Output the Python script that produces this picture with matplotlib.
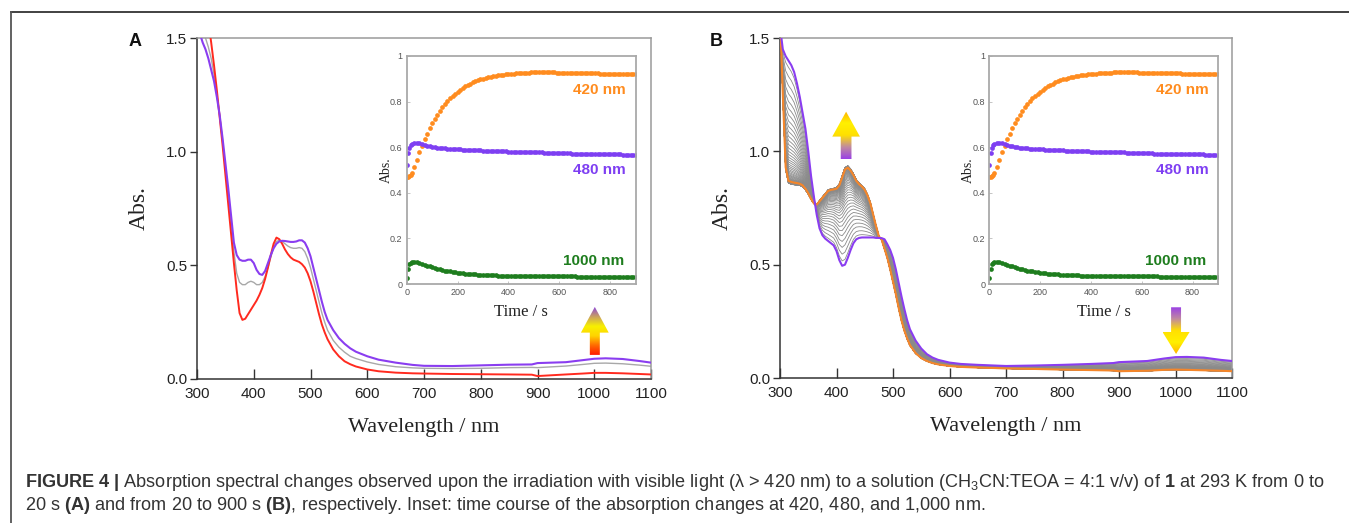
import numpy as np
import matplotlib
matplotlib.use("Agg")
import matplotlib.pyplot as plt
from matplotlib.lines import Line2D
from matplotlib.patches import Polygon
from matplotlib.colors import LinearSegmentedColormap
from matplotlib.ticker import FuncFormatter

plt.rcParams['font.family'] = ['Liberation Sans', 'DejaVu Sans']
plt.rcParams['mathtext.fontset'] = 'custom'
plt.rcParams['mathtext.rm'] = 'Liberation Sans'
plt.rcParams['mathtext.bf'] = 'Liberation Sans:bold'
plt.rcParams['mathtext.it'] = 'Liberation Sans:italic'

# ---------------- data ----------------
wavelength = [300, 305, 310, 315, 320, 325, 330, 335, 340, 345,
              350, 355, 360, 365, 370, 375, 380, 385, 390, 395,
              400, 405, 410, 415, 420, 425, 430, 435, 440, 445,
              450, 455, 460, 465, 470, 475, 480, 485, 490, 495,
              500, 505, 510, 515, 520, 525, 530, 540, 550, 560,
              570, 580, 600, 620, 650, 680, 700, 750, 800, 850,
              890, 900, 950, 980, 1000, 1020, 1050, 1080, 1100]

# Panel A: 0 s (red), intermediate (gray), 20 s (purple)
a_spec_0s = [1.95, 1.85, 1.75, 1.66, 1.57, 1.48, 1.38, 1.27, 1.15, 1.03,
             0.90, 0.77, 0.64, 0.51, 0.39, 0.29, 0.26, 0.265, 0.285, 0.305,
             0.325, 0.345, 0.37, 0.40, 0.44, 0.49, 0.545, 0.595, 0.622, 0.615,
             0.595, 0.57, 0.55, 0.535, 0.525, 0.52, 0.515, 0.505, 0.49, 0.465,
             0.43, 0.385, 0.335, 0.285, 0.24, 0.205, 0.175, 0.13, 0.10, 0.078,
             0.065, 0.055, 0.042, 0.034, 0.028, 0.025, 0.024, 0.022, 0.021, 0.02,
             0.019, 0.013, 0.02, 0.024, 0.027, 0.027, 0.025, 0.022, 0.02]
a_spec_mid = [1.66, 1.60, 1.55, 1.50, 1.46, 1.41, 1.34, 1.25, 1.16, 1.05,
              0.93, 0.81, 0.68, 0.56, 0.465, 0.425, 0.415, 0.415, 0.425, 0.43,
              0.425, 0.415, 0.415, 0.425, 0.45, 0.49, 0.535, 0.58, 0.605, 0.61,
              0.605, 0.595, 0.585, 0.578, 0.575, 0.575, 0.578, 0.575, 0.56, 0.53,
              0.49, 0.44, 0.39, 0.34, 0.29, 0.25, 0.215, 0.17, 0.14, 0.118,
              0.10, 0.09, 0.075, 0.064, 0.054, 0.049, 0.047, 0.046, 0.047, 0.05,
              0.051, 0.05, 0.057, 0.064, 0.069, 0.07, 0.067, 0.061, 0.056]
a_spec_20s = [1.56, 1.52, 1.48, 1.45, 1.41, 1.36, 1.31, 1.24, 1.16, 1.06,
              0.95, 0.84, 0.72, 0.60, 0.545, 0.525, 0.52, 0.52, 0.525, 0.525,
              0.51, 0.48, 0.462, 0.458, 0.475, 0.51, 0.545, 0.575, 0.595, 0.605,
              0.608, 0.607, 0.605, 0.603, 0.603, 0.605, 0.61, 0.61, 0.60, 0.575,
              0.54, 0.49, 0.44, 0.39, 0.34, 0.295, 0.26, 0.215, 0.18, 0.155,
              0.135, 0.12, 0.10, 0.085, 0.072, 0.062, 0.058, 0.057, 0.06, 0.063,
              0.064, 0.07, 0.074, 0.083, 0.089, 0.091, 0.088, 0.079, 0.072]

# Panel B: 20 s (purple) and 900 s (orange)
b_spec_20s = [1.55, 1.45, 1.42, 1.40, 1.38, 1.35, 1.30, 1.24, 1.17, 1.10,
              1.00, 0.89, 0.80, 0.72, 0.66, 0.63, 0.615, 0.605, 0.595, 0.585,
              0.56, 0.52, 0.495, 0.50, 0.53, 0.565, 0.595, 0.612, 0.618, 0.62,
              0.62, 0.62, 0.62, 0.62, 0.618, 0.618, 0.617, 0.612, 0.59, 0.565,
              0.53, 0.48, 0.42, 0.36, 0.305, 0.255, 0.215, 0.165, 0.13, 0.105,
              0.09, 0.08, 0.068, 0.062, 0.058, 0.055, 0.053, 0.055, 0.058, 0.062,
              0.066, 0.07, 0.075, 0.086, 0.092, 0.093, 0.09, 0.08, 0.075]
b_spec_900s = [1.60, 1.25, 0.93, 0.87, 0.865, 0.862, 0.86, 0.857, 0.85, 0.835,
               0.815, 0.79, 0.77, 0.765, 0.78, 0.795, 0.81, 0.825, 0.83, 0.832,
               0.835, 0.85, 0.885, 0.92, 0.928, 0.915, 0.895, 0.87, 0.855, 0.845,
               0.83, 0.805, 0.77, 0.72, 0.67, 0.625, 0.61, 0.57, 0.53, 0.48,
               0.425, 0.37, 0.31, 0.255, 0.21, 0.175, 0.145, 0.11, 0.088, 0.075,
               0.066, 0.06, 0.053, 0.049, 0.046, 0.044, 0.042, 0.04, 0.037, 0.035,
               0.033, 0.03, 0.032, 0.036, 0.037, 0.036, 0.034, 0.032, 0.03]

# Inset: time course (s)
time_s = [0, 5, 10, 15, 20,
          30, 40, 50, 60, 70, 80, 90, 100,
          110, 120, 130, 140, 150, 160, 170, 180, 190, 200,
          210, 220, 230, 240, 250, 260, 270, 280, 290, 300,
          310, 320, 330, 340, 350, 360, 370, 380, 390, 400,
          410, 420, 430, 440, 450, 460, 470, 480, 490, 500,
          510, 520, 530, 540, 550, 560, 570, 580, 590, 600,
          610, 620, 630, 640, 650, 660, 670, 680, 690, 700,
          710, 720, 730, 740, 750, 760, 770, 780, 790, 800,
          810, 820, 830, 840, 850, 860, 870, 880, 890, 900]
abs_420 = [0.468, 0.470, 0.474, 0.480, 0.488,
           0.512, 0.545, 0.578, 0.607, 0.635, 0.660, 0.683, 0.705,
           0.725, 0.743, 0.760, 0.775, 0.789, 0.802, 0.814, 0.825, 0.835, 0.844,
           0.852, 0.860, 0.867, 0.873, 0.879, 0.884, 0.889, 0.893, 0.897, 0.900,
           0.903, 0.906, 0.909, 0.911, 0.913, 0.915, 0.917, 0.918, 0.920, 0.921,
           0.922, 0.923, 0.924, 0.925, 0.926, 0.926, 0.927, 0.927, 0.928, 0.928,
           0.928, 0.928, 0.928, 0.928, 0.928, 0.928, 0.928, 0.928, 0.927, 0.927,
           0.927, 0.927, 0.927, 0.926, 0.926, 0.926, 0.926, 0.925, 0.925, 0.925,
           0.925, 0.924, 0.924, 0.924, 0.924, 0.923, 0.923, 0.923, 0.923, 0.922,
           0.922, 0.922, 0.922, 0.921, 0.921, 0.921, 0.921, 0.920, 0.920, 0.920]
abs_480 = [0.520, 0.575, 0.598, 0.609, 0.614,
           0.619, 0.620, 0.618, 0.614, 0.610, 0.607, 0.604, 0.602,
           0.600, 0.598, 0.597, 0.596, 0.595, 0.594, 0.593, 0.592, 0.591, 0.590,
           0.590, 0.589, 0.589, 0.588, 0.588, 0.587, 0.587, 0.586, 0.586, 0.585,
           0.585, 0.585, 0.584, 0.584, 0.583, 0.583, 0.582, 0.582, 0.582, 0.581,
           0.581, 0.581, 0.580, 0.580, 0.580, 0.579, 0.579, 0.578, 0.578, 0.577,
           0.577, 0.577, 0.577, 0.576, 0.576, 0.575, 0.575, 0.575, 0.574, 0.574,
           0.574, 0.573, 0.573, 0.573, 0.572, 0.572, 0.572, 0.572, 0.571, 0.571,
           0.571, 0.571, 0.570, 0.570, 0.570, 0.570, 0.569, 0.569, 0.569, 0.569,
           0.568, 0.568, 0.568, 0.568, 0.567, 0.567, 0.567, 0.567, 0.567, 0.567]
abs_1000 = [0.027, 0.067, 0.086, 0.094, 0.097,
            0.098, 0.096, 0.092, 0.088, 0.084, 0.080, 0.077, 0.073,
            0.070, 0.067, 0.064, 0.062, 0.059, 0.057, 0.055, 0.053, 0.052, 0.050,
            0.049, 0.047, 0.046, 0.045, 0.044, 0.043, 0.042, 0.041, 0.041, 0.040,
            0.040, 0.039, 0.039, 0.038, 0.038, 0.037, 0.037, 0.037, 0.036, 0.036,
            0.036, 0.036, 0.035, 0.035, 0.035, 0.035, 0.035, 0.035, 0.034, 0.034,
            0.034, 0.034, 0.034, 0.034, 0.034, 0.034, 0.033, 0.033, 0.033, 0.033,
            0.033, 0.033, 0.033, 0.033, 0.033, 0.033, 0.032, 0.032, 0.032, 0.032,
            0.032, 0.032, 0.032, 0.032, 0.032, 0.032, 0.031, 0.031, 0.031, 0.031,
            0.031, 0.031, 0.031, 0.031, 0.031, 0.031, 0.031, 0.031, 0.031, 0.031]

wl_ticks = [300, 400, 500, 600, 700, 800, 900, 1000, 1100]
abs_ticks = [0.0, 0.5, 1.0, 1.5]
inset_xticks = [0, 200, 400, 600, 800]
inset_yticks = [0, 0.2, 0.4, 0.6, 0.8, 1.0]

# ---------------- styling ----------------
C_RED = '#ff2a1f'
C_PURPLE = '#8a3df0'
C_GRAY = '#a8a8a8'
C_ORANGE = '#f5862a'
C_IN_OR = '#ff8c1f'
C_IN_PU = '#7e3ff2'
C_IN_GR = '#1e7d1e'

W, H = 1349, 523
fig = plt.figure(figsize=(W / 100, H / 100), dpi=100)


def fx(px):
    return px / W


def fy(py):
    return 1 - py / H


# outer frame (top + left)
fig.add_artist(Line2D([fx(11), 1], [fy(12), fy(12)], transform=fig.transFigure,
                      color='#333333', lw=1.3))
fig.add_artist(Line2D([fx(11), fx(11)], [0, fy(12)], transform=fig.transFigure,
                      color='#555555', lw=1.3))


def style_main(ax):
    ax.set_xlim(300, 1100)
    ax.set_ylim(0, 1.5)
    ax.set_xticks(wl_ticks)
    ax.set_yticks(abs_ticks)
    ax.set_yticklabels([f"{v:.1f}" for v in abs_ticks])
    for s in ['left', 'bottom']:
        ax.spines[s].set_color('#333333')
        ax.spines[s].set_linewidth(1.1)
    for s in ['top', 'right']:
        ax.spines[s].set_color('#9a9a9a')
        ax.spines[s].set_linewidth(1.1)
    ax.tick_params(axis='x', direction='in', length=7, width=1, colors='#333333',
                   labelsize=11, pad=6, labelcolor='#222222')
    ax.tick_params(axis='y', direction='out', length=5, width=1, colors='#333333',
                   labelsize=11, pad=2, labelcolor='#222222')
    ax.set_xlabel('Wavelength / nm', family='Liberation Serif', fontsize=16,
                  color='#222222', labelpad=12)
    ax.set_ylabel('Abs.', family='Liberation Serif', fontsize=17,
                  color='#222222', labelpad=12)


def gradient_arrow(ax, xc, y_tail, y_tip, head_len, head_w, shaft_w, colors):
    d = 1 if y_tip > y_tail else -1
    y_base = y_tip - d * head_len
    verts = [(xc - shaft_w / 2, y_tail), (xc + shaft_w / 2, y_tail),
             (xc + shaft_w / 2, y_base), (xc + head_w / 2, y_base),
             (xc, y_tip), (xc - head_w / 2, y_base), (xc - shaft_w / 2, y_base)]
    poly = Polygon(verts, closed=True, facecolor='none', edgecolor='none',
                   transform=ax.transData)
    ax.add_patch(poly)
    cmap = LinearSegmentedColormap.from_list('arr', colors)
    grad = np.linspace(0, 1, 256).reshape(-1, 1)
    if d < 0:
        grad = grad[::-1]
    im = ax.imshow(grad, cmap=cmap, aspect='auto', origin='lower',
                   extent=[xc - head_w / 2, xc + head_w / 2,
                           min(y_tail, y_tip), max(y_tail, y_tip)],
                   zorder=5, interpolation='bilinear')
    im.set_clip_path(poly)


def inset(rect):
    ia = fig.add_axes(rect)
    ia.set_facecolor('white')
    ia.plot(time_s, abs_420, 'o', ms=3.4, mew=0, color=C_IN_OR)
    ia.plot(time_s, abs_480, 'o', ms=3.4, mew=0, color=C_IN_PU)
    ia.plot(time_s, abs_1000, 'o', ms=3.4, mew=0, color=C_IN_GR)
    ia.set_xlim(0, 900)
    ia.set_ylim(0, 1)
    ia.set_xticks(inset_xticks)
    ia.set_yticks(inset_yticks)
    ia.yaxis.set_major_formatter(FuncFormatter(lambda v, p: f"{v:g}"))
    for s in ia.spines.values():
        s.set_color('#a9a9a9')
        s.set_linewidth(1.3)
    ia.tick_params(direction='in', length=2, width=0.6, colors='#bbbbbb',
                   labelsize=6.5, labelcolor='#555555', pad=3)
    ia.set_xlabel('Time / s', family='Liberation Serif', fontsize=12,
                  color='#222222', labelpad=5)
    ia.set_ylabel('Abs.', family='Liberation Serif', fontsize=10,
                  color='#222222', labelpad=-2)
    ia.text(862, 0.85, '420 nm', color=C_IN_OR, fontsize=11, fontweight='bold',
            ha='right', va='center')
    ia.text(862, 0.50, '480 nm', color=C_IN_PU, fontsize=11, fontweight='bold',
            ha='right', va='center')
    ia.text(855, 0.102, '1000 nm', color=C_IN_GR, fontsize=11, fontweight='bold',
            ha='right', va='center')
    return ia


# ---------------- Panel A ----------------
axA = fig.add_axes([fx(197), fy(379), fx(651 - 197), (379 - 38) / H])
axA.plot(wavelength, a_spec_mid, color=C_GRAY, lw=1.0, zorder=2)
axA.plot(wavelength, a_spec_0s, color=C_RED, lw=1.4, zorder=3)
axA.plot(wavelength, a_spec_20s, color=C_PURPLE, lw=1.5, zorder=4)
gradient_arrow(axA, 1001, 0.106, 0.317, 0.113, 49, 17.6,
               ['#ff1a00', '#ff6a00', '#ffd400', '#f8f000', '#c9a060', '#8e48d8'])
style_main(axA)
fig.text(fx(135), fy(41), 'A', fontsize=13, fontweight='bold', ha='center',
         va='center', color='#111111')
inset([fx(406.7), fy(284), fx(229), (284 - 56) / H])

# ---------------- Panel B ----------------
axB = fig.add_axes([fx(780), fy(378), fx(1232 - 780), (378 - 38) / H])
p20 = np.array(b_spec_20s)
p900 = np.array(b_spec_900s)
a420_start = abs_420[time_s.index(20)]
a420_end = abs_420[time_s.index(900)]
# intermediate spectra (every 10 s) weighted by the 420 nm time course
for t, a in zip(time_s, abs_420):
    if 20 < t < 900:
        frac = (a - a420_start) / (a420_end - a420_start)
        axB.plot(wavelength, p20 + frac * (p900 - p20), color='#8a8a8a',
                 lw=0.6, zorder=2)
axB.plot(wavelength, b_spec_900s, color=C_ORANGE, lw=1.5, zorder=3)
axB.plot(wavelength, b_spec_20s, color=C_PURPLE, lw=1.5, zorder=4)
gradient_arrow(axB, 417, 0.965, 1.175, 0.11, 49, 19,
               ['#9a40e6', '#c08aa0', '#ffe000', '#fff000', '#ffb300'])
gradient_arrow(axB, 1001, 0.312, 0.106, 0.097, 48, 17.6,
               ['#9a40e6', '#c08aa0', '#ffe000', '#fff000', '#ffb300'])
style_main(axB)
fig.text(fx(716), fy(41), 'B', fontsize=13, fontweight='bold', ha='center',
         va='center', color='#111111')
inset([fx(989.3), fy(284), fx(228.7), (284 - 56) / H])

# ---------------- caption ----------------
line1 = (r"$\mathbf{FIGURE\ 4\ |}$ Absorption spectral changes observed upon the "
         r"irradiation with visible light (λ > 420 nm) to a solution "
         r"(CH${}_{3}$CN:TEOA = 4:1 v/v) of $\mathbf{1}$ at 293 K from 0 to")
line2 = (r"20 s $\mathbf{(A)}$ and from 20 to 900 s $\mathbf{(B)}$, respectively. "
         r"Inset: time course of the absorption changes at 420, 480, and 1,000 nm.")
t1 = fig.text(fx(25), fy(487), line1, fontsize=11, color='#333333', ha='left',
              va='baseline')
t2 = fig.text(fx(25), fy(510), line2, fontsize=11, color='#333333', ha='left',
              va='baseline')
r = fig.canvas.get_renderer()
wdt = t1.get_window_extent(r).width
size = 11 * (1328 - 25) / wdt
t1.set_fontsize(size)
t2.set_fontsize(size)

fig.savefig('out.png', dpi=100)
